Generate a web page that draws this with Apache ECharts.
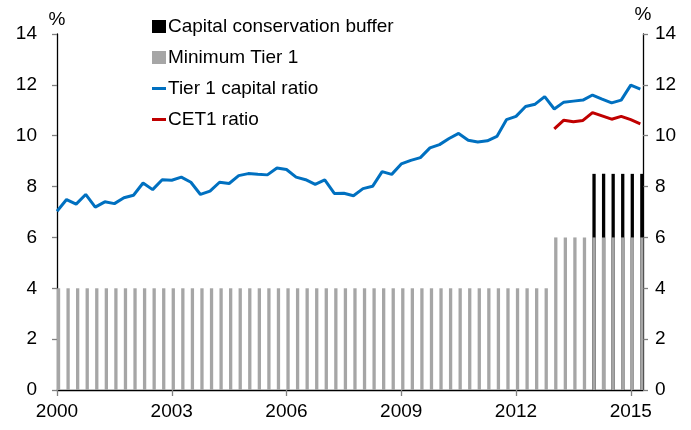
<!DOCTYPE html>
<html>
<head>
<meta charset="utf-8">
<script src="https://cdn.jsdelivr.net/npm/echarts@6/dist/echarts.min.js"></script>
<style>html,body{margin:0;padding:0;background:#fff}#c{width:691px;height:430px}</style>
</head>
<body>
<div id="c"></div>
<script>
// Quarterly observations, 2000 Q1 .. 2015 Q2
const startYear = 2000;
const xTickYears = [2000, 2003, 2006, 2009, 2012, 2015];
const yTicks = [0, 2, 4, 6, 8, 10, 12, 14];

const minTier1 = [
  4,4,4,4, 4,4,4,4, 4,4,4,4, 4,4,4,4, 4,4,4,4, 4,4,4,4, 4,4,4,4,
  4,4,4,4, 4,4,4,4, 4,4,4,4, 4,4,4,4, 4,4,4,4, 4,4,4,4,
  6,6,6,6, 6,6,6,6, 6,6
];
const bufferStart = 2014; // first quarter with the buffer
const buffer = [2.5, 2.5, 2.5, 2.5, 2.5, 2.5];

const tier1 = [
  7.03, 7.49, 7.31, 7.69, 7.19, 7.40, 7.33, 7.56, 7.66, 8.14,
  7.88, 8.27, 8.25, 8.37, 8.17, 7.69, 7.82, 8.17, 8.12, 8.43,
  8.51, 8.48, 8.46, 8.73, 8.67, 8.37, 8.27, 8.09, 8.26, 7.73,
  7.74, 7.64, 7.92, 8.01, 8.59, 8.48, 8.89, 9.03, 9.14, 9.52,
  9.65, 9.89, 10.09, 9.82, 9.75, 9.80, 9.97, 10.63, 10.76, 11.15,
  11.24, 11.54, 11.05, 11.32, 11.36, 11.40, 11.60, 11.44, 11.29, 11.40,
  11.99, 11.83
];
const cet1Start = 2013; // first quarter with CET1 data
const cet1 = [10.27, 10.61, 10.55, 10.60, 10.91, 10.78, 10.65, 10.76, 10.63, 10.47];

// quarter positions on the time axis
const quarters = tier1.map((_, i) => startYear + i / 4);

const minData = quarters.map((q, i) => [q, minTier1[i]]);
// buffer sits on top of the minimum: drawn as a bar up to (minimum + buffer), behind the grey bar
const bufTopData = [];
quarters.forEach((q, i) => {
  const k = Math.round((q - bufferStart) * 4);
  if (k >= 0 && k < buffer.length) bufTopData.push([q, minTier1[i] + buffer[k]]);
});
const tier1Data = quarters.map((q, i) => [q, tier1[i]]);
const cet1Data = cet1.map((v, i) => [cet1Start + i / 4, v]);

const FONT = '"Liberation Sans", Arial, sans-serif';
const xMax = 2015.32;
const barShift = 0.04;
const LINE_ICON = 'path://M0,0 L14,0 L14,3 L0,3 Z';

const yAxisBase = {
  type: 'value', min: 0, max: 14, interval: 2,
  name: '%', nameLocation: 'end', nameGap: 5,
  nameTextStyle: { fontFamily: FONT, fontSize: 19, color: '#000' },
  axisLine: { show: true, lineStyle: { color: '#000', width: 1.3 } },
  axisTick: { show: true, length: 5, lineStyle: { color: '#808080', width: 1.3 } },
  axisLabel: { fontFamily: FONT, fontSize: 19, color: '#000' },
  splitLine: { show: false }
};

const chart = echarts.init(document.getElementById('c'), null, { renderer: 'canvas' });
chart.setOption({
  animation: false,
  backgroundColor: '#fff',
  grid: { left: 57, right: 48, top: 34, bottom: 40 },
  legend: {
    orient: 'vertical', left: 152, top: 17, itemGap: 12, padding: 0,
    itemWidth: 14, itemHeight: 13, symbolKeepAspect: true,
    textStyle: { fontFamily: FONT, fontSize: 19, color: '#000', lineHeight: 19, padding: [0, 0, 0, -3] },
    data: [
      { name: 'Capital conservation buffer', icon: 'rect' },
      { name: 'Minimum Tier 1', icon: 'rect' },
      { name: 'Tier 1 capital ratio', icon: LINE_ICON },
      { name: 'CET1 ratio', icon: LINE_ICON }
    ]
  },
  xAxis: [
    {
      type: 'value', min: startYear, max: xMax, interval: 3,
      axisLine: { lineStyle: { color: '#000', width: 1.3 } },
      axisTick: { customValues: xTickYears, length: 6, lineStyle: { color: '#808080', width: 1.3 } },
      axisLabel: { customValues: xTickYears, formatter: v => String(v), margin: 12, fontFamily: FONT, fontSize: 19, color: '#000' },
      splitLine: { show: false }
    },
    { type: 'value', min: startYear - barShift, max: xMax - barShift, show: false }
  ],
  yAxis: [
    Object.assign({}, yAxisBase, { position: 'left', axisLabel: Object.assign({}, yAxisBase.axisLabel, { margin: 20 }) }),
    Object.assign({}, yAxisBase, { position: 'right', axisLabel: Object.assign({}, yAxisBase.axisLabel, { margin: 12 }) })
  ],
  series: [
    { name: 'Capital conservation buffer', type: 'bar', xAxisIndex: 1, barWidth: 3.3, barGap: '-100%', z: 1,
      itemStyle: { color: '#000' }, data: bufTopData },
    { name: 'Minimum Tier 1', type: 'bar', xAxisIndex: 1, barWidth: 3.3, barGap: '-100%', z: 2,
      itemStyle: { color: '#A6A6A6' }, data: minData },
    { name: 'Tier 1 capital ratio', type: 'line', symbol: 'none', z: 5,
      lineStyle: { color: '#0070C0', width: 3 }, itemStyle: { color: '#0070C0' }, data: tier1Data },
    { name: 'CET1 ratio', type: 'line', symbol: 'none', z: 5,
      lineStyle: { color: '#C00000', width: 3 }, itemStyle: { color: '#C00000' }, data: cet1Data }
  ]
});
</script>
</body>
</html>
